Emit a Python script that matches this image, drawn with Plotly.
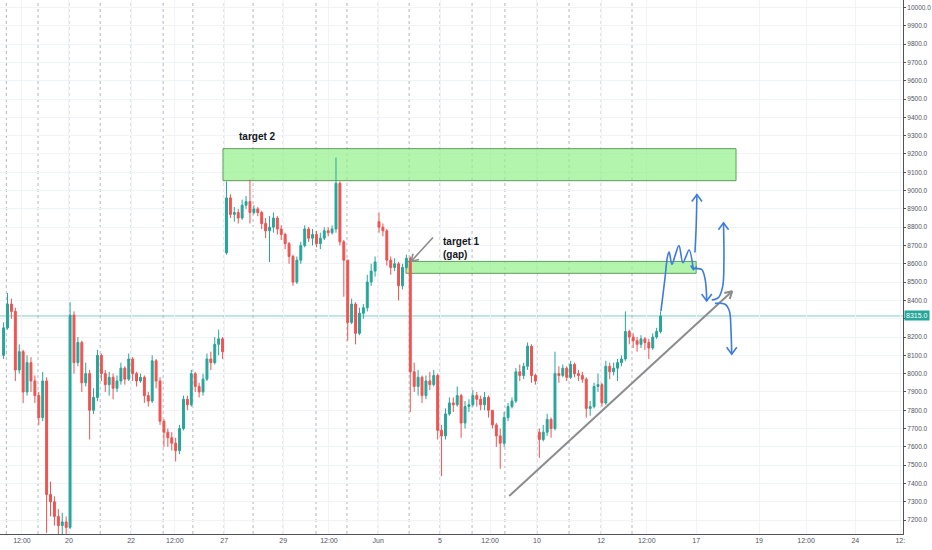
import plotly.graph_objects as go

# ---------------- data (BTC futures candles) -------------
opens = [8100,8250,8380,8340,8020,8120,7900,8060,7960,7880,7760,7960,7340,7300,7220,7170,7190,7160,8320,8060,
         8170,7950,8000,7800,7870,8100,8000,7940,7980,7920,7960,8030,7970,8080,8000,7960,7980,7880,7850,8070,
         7960,7740,7680,7650,7620,7580,7700,7860,7830,8000,7930,7900,7970,8080,8060,8160,8190,8660,8960,8870,
         8880,8850,8920,8940,8880,8900,8880,8820,8780,8800,8850,8790,8760,8710,8640,8500,8620,8700,8790,8740,
         8760,8710,8740,8780,8770,8790,9040,8720,8620,8280,8380,8220,8330,8360,8500,8560,8830,8800,8780,8620,
         8580,8600,8480,8580,8630,8010,7930,7980,7880,7960,7940,7990,7690,7660,7780,7840,7830,7880,7730,7820,
         7830,7880,7860,7830,7870,7800,7720,7660,7620,7760,7820,7850,8010,7990,8040,8150,7990,7680,7640,7680,
         7750,7700,8000,7990,8030,7980,8050,8000,7990,7970,7810,7820,7930,7940,7840,8040,8010,8030,8060,8080,
         8230,8200,8180,8160,8190,8170,8140,8200,8230]
highs = [8280,8440,8410,8360,8160,8130,8100,8090,7990,7900,8010,7980,7410,7330,7260,7240,7220,8390,8340,8200,
         8180,8060,8020,7920,8130,8110,8020,8010,8000,7990,8060,8040,8110,8090,8010,8000,7990,7900,8100,8080,
         7980,7750,7700,7680,7650,7720,7880,7880,8020,8010,7950,8000,8110,8120,8200,8240,8200,9050,8980,8910,
         8900,8950,8970,9060,8920,8910,8890,8850,8860,8880,8860,8810,8770,8720,8650,8640,8720,8810,8800,8790,
         8780,8770,8800,8800,8810,9180,9050,8730,8620,8410,8390,8360,8380,8540,8600,8640,8880,8820,8790,8640,
         8630,8610,8600,8650,8640,8060,8020,7990,7990,8010,8020,8000,7720,7810,7870,7870,7930,7890,7850,7860,
         7910,7900,7880,7900,7880,7800,7730,7700,7790,7840,7870,8030,8050,8060,8170,8160,8000,7700,7720,7780,
         7760,8120,8040,8050,8040,8070,8060,8020,8010,7980,7850,7950,8000,7950,8070,8060,8060,8080,8100,8340,
         8240,8220,8200,8210,8200,8190,8220,8250,8340]
lows = [8080,8240,8300,7960,8000,7840,7880,7900,7840,7720,7740,7130,7220,7170,7120,7120,7120,7150,8000,8040,
        7900,7930,7640,7780,7850,7960,7900,7880,7860,7900,7940,7940,7960,7960,7930,7950,7840,7820,7840,7920,
        7720,7600,7600,7580,7520,7560,7690,7800,7820,7900,7870,7880,7960,8020,8050,8100,8080,8650,8850,8830,
        8820,8840,8900,8820,8870,8860,8790,8740,8610,8770,8760,8730,8680,8600,8480,8490,8600,8690,8720,8700,
        8690,8680,8730,8750,8760,8770,8700,8420,8180,8270,8160,8210,8300,8340,8480,8530,8770,8750,8590,8540,
        8560,8400,8460,8570,7790,7900,7880,7840,7860,7910,7930,7640,7440,7640,7770,7790,7820,7650,7700,7790,
        7820,7820,7800,7800,7760,7700,7600,7480,7600,7740,7810,7840,7960,7970,8020,7950,7940,7540,7630,7660,
        7650,7690,7950,7980,7960,7970,7980,7960,7950,7760,7770,7810,7900,7820,7830,7970,7990,7960,8040,8070,
        8160,8140,8120,8140,8130,8080,8130,8190,8220]
closes = [8250,8380,8340,8020,8120,7900,8060,7960,7880,7760,7960,7340,7300,7220,7170,7190,7160,8320,8060,8170,
          7950,8000,7800,7870,8100,8000,7940,7980,7920,7960,8030,7970,8080,8000,7960,7980,7880,7850,8070,7960,
          7740,7680,7650,7620,7580,7700,7860,7830,8000,7930,7900,7970,8080,8060,8160,8190,8120,8960,8870,8880,
          8850,8920,8940,8880,8900,8880,8820,8780,8800,8850,8790,8760,8710,8640,8500,8620,8700,8790,8740,8760,
          8710,8740,8780,8770,8790,9040,8720,8620,8280,8380,8220,8330,8360,8500,8560,8610,8800,8780,8620,8580,
          8600,8480,8580,8630,8010,7930,7980,7880,7960,7940,7990,7690,7660,7780,7840,7830,7880,7730,7820,7830,
          7880,7860,7830,7870,7800,7720,7660,7620,7760,7820,7850,8010,7990,8040,8150,7990,7960,7640,7680,7750,
          7700,8000,7990,8030,7980,8050,8000,7990,7970,7810,7820,7930,7940,7840,8040,8010,8030,8060,8080,8230,
          8200,8180,8160,8190,8170,8140,8200,8230,8315]
bars = list(range(len(closes)))
last_price = 8315.0

# time axis labels (bar positions)
tick_pos = [4.7, 16.7, 32.6, 43.8, 56.4, 71.5, 83.2, 95.8, 111.6, 124.4, 136.4, 152.8, 164.5, 177.1, 193.2, 205.2, 217.8, 229.3]
tick_text = ["12:00", "20", "22", "12:00", "27", "29", "12:00", "Jun", "5", "12:00", "10", "12", "12:00", "17", "19", "12:00", "24", "12:"]
session_breaks = [0.7, 8.8, 16.7, 24.7, 32.6, 40.8, 48.4, 56.4, 63.8, 71.5, 79.9, 87.8, 95.8, 103.7, 111.6, 119.8, 128.2, 136.4, 144.6, 152.8, 160.7]
price_ticks = list(range(7200, 10001, 100))

# zones (bar, price)
target2_x = [56.1, 187.3]; target2_y = [9054, 9229]
target1_x = [102.9, 177.1]; target1_y = [8548, 8613]

# hand drawings (bar, price)
trend_x = [129.3, 186.3]; trend_y = [7332, 8450]
trend_head_x = [184.3, 186.3, 185.7]; trend_head_y = [8440, 8450, 8408]
gap_arrow_x = [109.8, 104.2]; gap_arrow_y = [8744, 8613]
gap_head_x = [106.2, 104.2, 104.7]; gap_head_y = [8624, 8613, 8655]

squig_x = [168.1, 169.1, 169.8, 170.2, 170.9, 171.8, 172.7, 173.7, 174.5, 175.3, 176.4]
squig_y = [8342, 8515, 8642, 8664, 8597, 8650, 8700, 8606, 8640, 8675, 8569]
squig_head_x = [175.7, 176.4, 177.3]; squig_head_y = [8591, 8569, 8584]
up1_x = [176.8, 177.1, 177.3]; up1_y = [8662, 8800, 8978]
up1_head_x = [176.0, 177.3, 178.6]; up1_head_y = [8940, 8978, 8940]
down1_x = [176.9, 178.5, 179.4, 179.8]; down1_y = [8573, 8569, 8515, 8397]
down1_head_x = [178.5, 179.8, 181.1]; down1_head_y = [8435, 8397, 8435]
up2_x = [181.1, 182.8, 183.9, 184.2, 184.1]; up2_y = [8402, 8415, 8478, 8608, 8824]
up2_head_x = [182.8, 184.1, 185.4]; up2_head_y = [8786, 8824, 8786]
down2_x = [181.9, 184.5, 185.6, 186.0, 186.2]; down2_y = [8384, 8379, 8342, 8242, 8106]
down2_head_x = [184.9, 186.2, 187.5]; down2_head_y = [8144, 8106, 8144]

# ---------------- figure ----------------
UP = "#26a69a"
DOWN = "#ef5350"
BLUE = "#3d7be0"
GRAY = "#8c8c8c"
FONT = "Liberation Sans"

fig = go.Figure()

fig.add_trace(go.Candlestick(
    x=bars, open=opens, high=highs, low=lows, close=closes,
    increasing=dict(line=dict(color=UP, width=1), fillcolor=UP),
    decreasing=dict(line=dict(color=DOWN, width=1), fillcolor=DOWN),
    whiskerwidth=0, hoverinfo="skip", showlegend=False,
))

def stroke(xs, ys, color, width=1.6, smooth=True):
    fig.add_trace(go.Scatter(
        x=xs, y=ys, mode="lines",
        line=dict(color=color, width=width, shape="spline" if smooth else "linear", smoothing=1.0),
        hoverinfo="skip", showlegend=False))

stroke(trend_x, trend_y, GRAY, 2, smooth=False)
stroke(trend_head_x, trend_head_y, GRAY, 2, smooth=False)
stroke(gap_arrow_x, gap_arrow_y, GRAY, 1.6, smooth=False)
stroke(gap_head_x, gap_head_y, GRAY, 1.6, smooth=False)
for xs, ys in [(squig_x, squig_y), (up1_x, up1_y), (down1_x, down1_y), (up2_x, up2_y), (down2_x, down2_y)]:
    stroke(xs, ys, BLUE, 1.6, smooth=True)
for xs, ys in [(squig_head_x, squig_head_y), (up1_head_x, up1_head_y), (down1_head_x, down1_head_y),
               (up2_head_x, up2_head_y), (down2_head_x, down2_head_y)]:
    stroke(xs, ys, BLUE, 1.6, smooth=False)

shapes = []
for sb in session_breaks:
    shapes.append(dict(type="line", xref="x", yref="paper", x0=sb, x1=sb, y0=0, y1=1,
                       line=dict(color="#b5b7bd", width=1, dash="dot"), layer="between"))
shapes.append(dict(type="rect", xref="x", yref="y", x0=target2_x[0], x1=target2_x[1], y0=target2_y[0], y1=target2_y[1],
                   fillcolor="rgba(140,240,130,0.65)", line=dict(color="#5e9e5e", width=1), layer="between"))
shapes.append(dict(type="rect", xref="x", yref="y", x0=target1_x[0], x1=target1_x[1], y0=target1_y[0], y1=target1_y[1],
                   fillcolor="rgba(140,240,130,0.65)", line=dict(color="#5e9e5e", width=1), layer="between"))
shapes.append(dict(type="line", xref="paper", yref="y", x0=0, x1=1, y0=last_price, y1=last_price,
                   line=dict(color="#7fcfc6", width=1), layer="between"))

annotations = [
    dict(x=59.7, y=9294, xref="x", yref="y", text="<b>target 2</b>", showarrow=False, xanchor="left",
         font=dict(family=FONT, size=10, color="#131722")),
    dict(x=111.9, y=8684, xref="x", yref="y", text="<b>target 1<br>(gap)</b>", showarrow=False, xanchor="left",
         align="left", font=dict(family=FONT, size=10, color="#131722")),
    dict(x=1, y=last_price, xref="paper", yref="y", text="%.1f" % last_price, showarrow=False, xanchor="left",
         bgcolor=UP, borderpad=1, xshift=1, font=dict(family=FONT, size=7, color="white")),
]

# label hidden under the last-price marker, as in the reference
price_labels = ["" if v == 8300 else "%.1f" % v for v in price_ticks]

fig.update_layout(
    width=932, height=550,
    margin=dict(l=0, r=29, t=0, b=16),
    paper_bgcolor="white", plot_bgcolor="white",
    shapes=shapes, annotations=annotations,
    showlegend=False,
    xaxis=dict(range=[-0.92, 230.0], tickmode="array", tickvals=tick_pos, ticktext=tick_text,
               tickfont=dict(family=FONT, size=7, color="#50535e"),
               showgrid=True, gridcolor="#f0f3fa", gridwidth=1, zeroline=False,
               showline=True, linecolor="#50535e", linewidth=1, ticks="", rangeslider=dict(visible=False),
               fixedrange=True),
    yaxis=dict(range=[7124, 10041], side="right", tickmode="array", tickvals=price_ticks,
               ticktext=price_labels,
               tickfont=dict(family=FONT, size=6.5, color="#50535e"),
               showgrid=True, gridcolor="#f0f3fa", gridwidth=1, zeroline=False,
               showline=True, linecolor="#50535e", linewidth=1, ticks="outside", ticklen=2, tickcolor="#50535e",
               fixedrange=True),
)

fig.write_html("out.html", config={"displayModeBar": False},
               post_script="document.body.style.margin='0';document.body.style.overflow='hidden';")
